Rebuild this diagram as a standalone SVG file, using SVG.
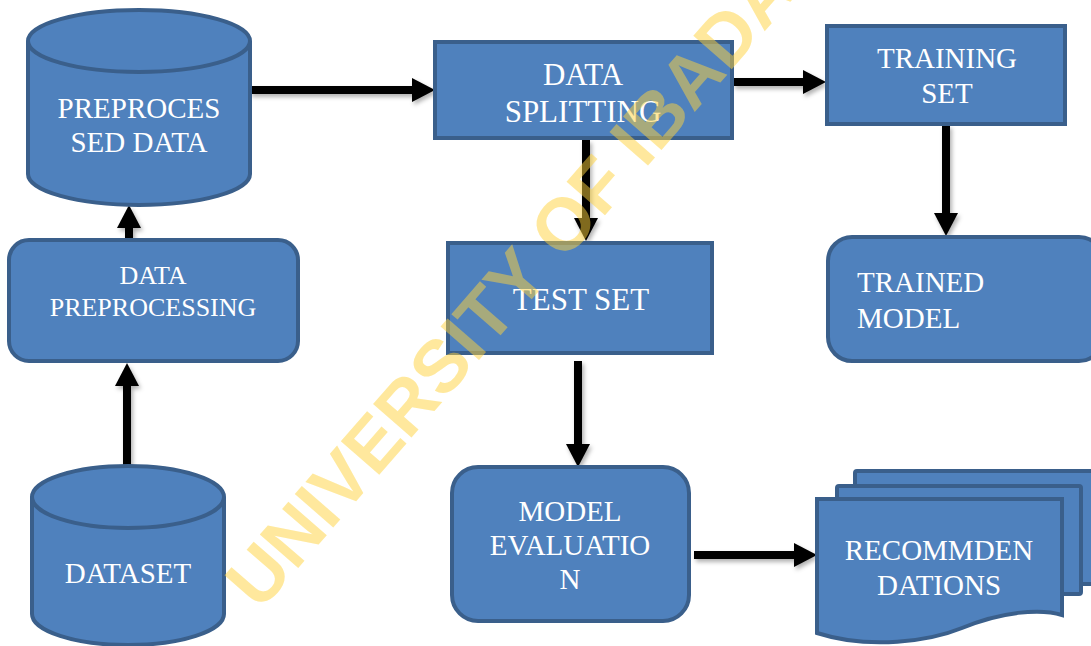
<svg xmlns="http://www.w3.org/2000/svg" width="1091" height="646" viewBox="0 0 1091 646">
<style>
.shape{fill:#4f81bd;stroke:#3a5f8b;stroke-width:4}
.rim{fill:none;stroke:#3a5f8b;stroke-width:4}
.lbl{font-family:"Liberation Serif","Times New Roman",serif;fill:#ffffff;text-anchor:middle}
.conn{stroke:#000;stroke-width:8;fill:none;marker-end:url(#ah)}
.wm{font-family:"Liberation Sans",Arial,sans-serif;font-weight:bold;font-size:74px;fill:#ffd33d;opacity:0.5}
</style>
<defs>
<marker id="ah" markerUnits="userSpaceOnUse" markerWidth="24" markerHeight="24" viewBox="0 0 24 24" refX="3" refY="12" orient="auto">
<path d="M0,0 L23,12 L0,24 Z" fill="#000"/>
</marker>
<filter id="sh" x="-20%" y="-20%" width="140%" height="140%">
<feDropShadow dx="2" dy="3" stdDeviation="2" flood-color="#000" flood-opacity="0.3"/>
</filter>
</defs>
<rect width="1091" height="646" fill="#ffffff"/>

<g id="connectors" filter="url(#sh)">
<line class="conn" x1="250" y1="90" x2="415" y2="90"/>
<line class="conn" x1="733" y1="82" x2="806" y2="82"/>
<line class="conn" x1="586" y1="140" x2="586" y2="221"/>
<line class="conn" x1="946" y1="125" x2="946" y2="216"/>
<line class="conn" x1="578" y1="361" x2="578" y2="447"/>
<line class="conn" x1="694" y1="555" x2="797" y2="555"/>
<line class="conn" x1="127" y1="467" x2="127" y2="383"/>
<line class="conn" x1="129" y1="238" x2="129" y2="225"/>
</g>

<g id="preprocessed-data">
<path class="shape" d="M28,41 A111,31 0 0 1 250,41 V174 A111,31 0 0 1 28,174 Z"/>
<path class="rim" d="M28,41 A111,31 0 0 0 250,41"/>
<text class="lbl" font-size="29" x="139" y="118">PREPROCES</text>
<text class="lbl" font-size="29" x="139" y="152">SED DATA</text>
</g>

<g id="data-splitting">
<rect class="shape" x="435" y="42" width="297" height="96"/>
<text class="lbl" font-size="31" x="583" y="85">DATA</text>
<text class="lbl" font-size="31" x="583" y="122">SPLITTING</text>
</g>

<g id="training-set">
<rect class="shape" x="827" y="26" width="238" height="98"/>
<text class="lbl" font-size="29" x="947" y="68">TRAINING</text>
<text class="lbl" font-size="29" x="947" y="103">SET</text>
</g>

<g id="trained-model">
<rect class="shape" x="828" y="237" width="275" height="124" rx="24"/>
<text class="lbl" font-size="29" x="857" y="292" style="text-anchor:start">TRAINED</text>
<text class="lbl" font-size="29" x="857" y="328" style="text-anchor:start">MODEL</text>
</g>

<g id="data-preprocessing">
<rect class="shape" x="9" y="240" width="289" height="121" rx="20"/>
<text class="lbl" font-size="26" x="153" y="284">DATA</text>
<text class="lbl" font-size="26" x="153" y="316">PREPROCESSING</text>
</g>

<g id="test-set">
<rect class="shape" x="448" y="243" width="264" height="110"/>
<text class="lbl" font-size="31" x="581" y="310">TEST SET</text>
</g>

<g id="dataset">
<path class="shape" d="M32,497 A96,31 0 0 1 224,497 V614 A96,31 0 0 1 32,614 Z"/>
<path class="rim" d="M32,497 A96,31 0 0 0 224,497"/>
<text class="lbl" font-size="29" x="128" y="583">DATASET</text>
</g>

<g id="model-evaluation">
<rect class="shape" x="452" y="467" width="237" height="154" rx="26"/>
<text class="lbl" font-size="29" x="570" y="521">MODEL</text>
<text class="lbl" font-size="29" x="570" y="555">EVALUATIO</text>
<text class="lbl" font-size="29" x="570" y="589">N</text>
</g>

<g id="recommendations">
<rect class="shape" x="855" y="471" width="250" height="113" rx="2"/>
<rect class="shape" x="837" y="486" width="244" height="108" rx="2"/>
<path class="shape" d="M817,499 H1062 V615 C1040,608 1000,612 962,628 C930,641 870,650 817,633 Z"/>
<text class="lbl" font-size="29" x="939" y="560">RECOMMDEN</text>
<text class="lbl" font-size="29" x="939" y="595">DATIONS</text>
</g>

<g id="watermark">
<text class="wm" transform="translate(260,612) rotate(-49)" x="0" y="0">UNIVERSITY OF IBADAN</text>
</g>
</svg>
